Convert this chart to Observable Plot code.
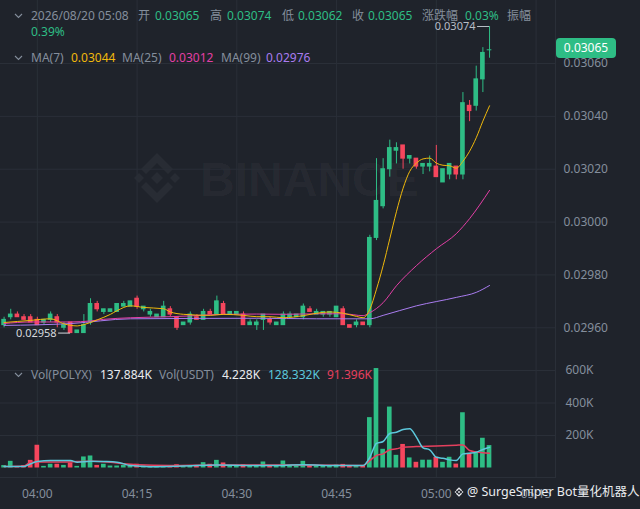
<!DOCTYPE html>
<html><head><meta charset="utf-8">
<script src="https://cdn.jsdelivr.net/npm/d3@7"></script>
<script src="https://cdn.jsdelivr.net/npm/@observablehq/plot@0.6"></script>
<style>
html,body{margin:0;padding:0;background:#1f232b;}
#wrap{position:relative;width:640px;height:509px;overflow:hidden;background:#1f232b;font-family:"Noto Sans","Noto Sans CJK SC",sans-serif;}
.t{position:absolute;font-size:12px;line-height:16px;white-space:nowrap;}
.pl{position:absolute;left:0;}
</style></head>
<body><div id="wrap"></div>
<script>
// ---------- data ----------
const startTime = "03:55";
const opens  = [0.02961,0.02964,0.02965,0.02964,0.02964,0.02963,0.02962,0.02963,0.02964,0.02960,
                0.02962,0.02958,0.02958,0.02962,0.02969,0.02966,0.02966,0.02966,0.02968,0.02968,
                0.02971,0.02967,0.02965,0.02964,0.02964,0.02967,0.02964,0.02961,0.02962,0.02964,
                0.02963,0.02966,0.02965,0.02969,0.02965,0.02965,0.02965,0.02961,0.02961,0.02963,
                0.02963,0.02961,0.02961,0.02964,0.02964,0.02964,0.02967,0.02965,0.02965,0.02965,
                0.02964,0.02967,0.02961,0.02961,0.02962,0.02961,0.02994,0.03006,0.03020,0.03027,
                0.03029,0.03024,0.03024,0.03021,0.03021,0.03021,0.03015,0.03018,0.03021,0.03018,
                0.03044,0.03044,0.03054,0.03065];
const highs  = [0.02964,0.02967,0.02966,0.02965,0.02965,0.02964,0.02963,0.02966,0.02965,0.02962,
                0.02962,0.02959,0.02965,0.02971,0.02970,0.02967,0.02967,0.02969,0.02970,0.02970,
                0.02972,0.02968,0.02967,0.02965,0.02970,0.02968,0.02964,0.02962,0.02966,0.02965,
                0.02967,0.02967,0.02972,0.02970,0.02966,0.02966,0.02966,0.02963,0.02963,0.02965,
                0.02964,0.02962,0.02966,0.02966,0.02965,0.02969,0.02968,0.02967,0.02966,0.02966,
                0.02968,0.02968,0.02961,0.02963,0.02962,0.02995,0.03024,0.03024,0.03031,0.03030,
                0.03029,0.03025,0.03024,0.03022,0.03025,0.03029,0.03020,0.03022,0.03021,0.03049,
                0.03046,0.03059,0.03066,0.03074];
const lows   = [0.02960,0.02963,0.02964,0.02963,0.02962,0.02961,0.02961,0.02962,0.02960,0.02959,
                0.02958,0.02958,0.02958,0.02961,0.02966,0.02965,0.02966,0.02966,0.02968,0.02968,
                0.02967,0.02966,0.02964,0.02964,0.02964,0.02964,0.02959,0.02961,0.02961,0.02963,
                0.02963,0.02965,0.02965,0.02965,0.02965,0.02965,0.02961,0.02961,0.02959,0.02959,
                0.02961,0.02961,0.02961,0.02964,0.02964,0.02963,0.02966,0.02965,0.02964,0.02964,
                0.02964,0.02961,0.02960,0.02960,0.02961,0.02960,0.02993,0.03005,0.03017,0.03022,
                0.03020,0.03022,0.03020,0.03018,0.03019,0.03017,0.03015,0.03016,0.03016,0.03016,
                0.03038,0.03042,0.03049,0.03062];
const closes = [0.02963,0.02965,0.02964,0.02963,0.02962,0.02961,0.02963,0.02965,0.02962,0.02961,
                0.02958,0.02959,0.02961,0.02969,0.02967,0.02967,0.02967,0.02969,0.02969,0.02970,
                0.02968,0.02968,0.02966,0.02965,0.02968,0.02965,0.02960,0.02962,0.02965,0.02963,
                0.02966,0.02965,0.02970,0.02965,0.02966,0.02966,0.02961,0.02962,0.02962,0.02965,
                0.02962,0.02962,0.02965,0.02965,0.02965,0.02968,0.02966,0.02966,0.02966,0.02966,
                0.02968,0.02961,0.02960,0.02962,0.02961,0.02994,0.03008,0.03020,0.03028,0.03028,
                0.03024,0.03025,0.03021,0.03022,0.03022,0.03017,0.03020,0.03022,0.03018,0.03045,
                0.03042,0.03054,0.03064,0.03065];
// volume in thousands of POLYX
const volumesK = [15,41,9,15,47,140,10,23,23,16, 31,10,68,74,16,23,12,12,16,10,
                  23,12,10,8,15,12,20,8,12,10, 33,23,47,31,12,10,20,12,15,37,
                  12,10,43,15,12,41,15,12,15,12, 18,22,12,15,12,310,612,115,375,78,
                  145,62,35,48,48,66,35,66,24,340, 90,90,183,138];
// moving averages (candle index -> value)
const ma7At  = [0,4,7,9,11,12,14,16,17,19,21,24,25,27,31,33,36,38,40,42,45,47,49,51,53,54,55,56,57,58,59,60,61,62,63,64,65,66,67,68,69,70,71,72,73];
const ma7    = [0.029620,0.029628,0.029634,0.029615,0.029607,0.029612,0.029630,0.029651,0.029665,0.029683,0.029677,0.029672,0.029660,0.029651,0.029647,0.029651,0.029647,0.029642,0.029642,0.029638,0.029646,0.029655,0.029660,0.029655,0.029643,0.029638,0.029670,0.029746,0.029835,0.029937,0.030039,0.030128,0.030192,0.030223,0.030239,0.030242,0.030223,0.030215,0.030213,0.030204,0.030230,0.030268,0.030319,0.030382,0.030440];
const ma25At = [0,4,10,13,15,19,25,28,33,38,42,47,51,54,55,57,59,62,65,68,70,73];
const ma25   = [0.029616,0.029622,0.029622,0.029626,0.029632,0.029638,0.029642,0.029645,0.029651,0.029652,0.029651,0.029653,0.029653,0.029646,0.029657,0.029695,0.029759,0.029835,0.029899,0.029956,0.030013,0.030120];
const ma99At = [0,10,19,38,47,55,57,62,68,71,73];
const ma99   = [0.029609,0.029616,0.029634,0.029636,0.029634,0.029634,0.029647,0.029683,0.029715,0.029734,0.029760];
const volMa5At  = [0,3,4,5,7,10,11,13,15,17,19,22,27,32,36,40,45,50,54,55,56,57,58,59,60,61,62,63,64,65,66,67,68,69,70,71,72,73];
const volMa5K   = [9,9,26,40,46,46,36,42,40,36,15,8,12,18,16,15,20,15,15,66,151,163,212,220,237,241,190,124,112,66,60,50,46,87,91,97,114,128];
const volMa10At = [0,3,4,5,9,13,16,18,20,25,35,45,54,55,56,57,58,59,60,62,65,68,69,70,72,73];
const volMa10K  = [9,12,36,37,37,42,36,26,20,16,18,18,16,46,77,87,112,118,128,132,135,140,142,108,94,91];
const priceTicks = [0.0296,0.0298,0.0300,0.0302,0.0304,0.0306];
const volTicks = [200000,400000,600000];
const timeLabels = ["04:00","04:15","04:30","04:45","05:00","05:15"];

// ---------- style ----------
const UP = "#2ebd85", DOWN = "#f6465d", GRID = "#2a2f38", AXIS = "#848e9c";
const C7 = "#f0b90b", C25 = "#e33fa6", C99 = "#a97cf0", CV5 = "#5cc8dc", CV10 = "#e5405e";
const FONT = '"Noto Sans","Noto Sans CJK SC",sans-serif';

const toMin = s => { const [h, m] = s.split(":").map(Number); return h * 60 + m; };
const m0 = toMin(startTime);
const candles = opens.map((o, i) => ({
  m: m0 + i, open: o, high: highs[i], low: lows[i], close: closes[i],
  vol: volumesK[i] * 1000, col: closes[i] >= o ? UP : DOWN
}));
const series = (at, vals, k = 1) => at.map((i, j) => ({m: m0 + i, v: vals[j] * k}));
const timeTicks = timeLabels.map(toMin);
const fmtTime = m => timeLabels[timeTicks.indexOf(m)];
const xDomain = [m0 - 0.54, m0 + 82.92];
const half = 0.35;

const wrap = document.getElementById("wrap");

// watermark
const wm = document.createElement("div");
wm.innerHTML = `<svg style="position:absolute;left:126px;top:147px" width="62" height="62" viewBox="0 0 62 62" fill="rgba(255,255,255,0.045)">
<polygon points="31,6 47,22 42,27 31,16 20,27 15,22"/><polygon points="31,56 47,40 42,35 31,46 20,35 15,40"/>
<polygon points="13,26 18,31 13,36 8,31"/><polygon points="49,26 54,31 49,36 44,31"/><polygon points="31,25 37,31 31,37 25,31"/></svg>
<div style="position:absolute;left:200px;top:156px;font:bold 48px 'Liberation Sans',sans-serif;line-height:1;color:rgba(255,255,255,0.045)">BINANCE</div>`;
wrap.appendChild(wm);

// ---------- price pane ----------
const minC = candles[d3.minIndex(candles, d => d.low)];
const maxC = candles[d3.maxIndex(candles, d => d.high)];
const last = candles[candles.length - 1];
const pf = d3.format(".5f");
const pricePlot = Plot.plot({
  width: 640, height: 357, marginLeft: 0, marginRight: 85, marginTop: 0, marginBottom: 0,
  style: {background: "transparent", fontFamily: FONT, fontSize: "12px", color: AXIS},
  x: {domain: xDomain, axis: null},
  y: {domain: [0.0294876, 0.0308384], axis: null},
  color: {type: "identity"},
  marks: [
    Plot.gridY({ticks: priceTicks, stroke: GRID, strokeOpacity: 1}),
    Plot.gridX({ticks: timeTicks, stroke: GRID, strokeOpacity: 1}),
    Plot.frame({anchor: "bottom", stroke: GRID}),
    Plot.frame({anchor: "right", stroke: GRID}),
    Plot.axisY({ticks: priceTicks, anchor: "right", label: null, tickSize: 0, tickPadding: 8, tickFormat: pf, fill: AXIS, fontSize: 12}),
    Plot.ruleX(candles, {x: "m", y1: "low", y2: "high", stroke: "col", strokeWidth: 1}),
    Plot.rect(candles, {x1: d => d.m - half, x2: d => d.m + half, y1: "open", y2: "close", fill: "col", insetTop: -0.5, insetBottom: -0.5}),
    Plot.line(series(ma99At, ma99), {x: "m", y: "v", stroke: C99, strokeWidth: 1, curve: "monotone-x"}),
    Plot.line(series(ma25At, ma25), {x: "m", y: "v", stroke: C25, strokeWidth: 1, curve: "monotone-x"}),
    Plot.line(series(ma7At, ma7), {x: "m", y: "v", stroke: C7, strokeWidth: 1, curve: "monotone-x"}),
    Plot.ruleY([maxC], {y: "high", x1: d => d.m - 1.8, x2: "m", stroke: "#b7bdc6", strokeWidth: 1}),
    Plot.text([maxC], {x: "m", y: "high", text: d => pf(d.high), textAnchor: "end", dx: -14, fill: "#b7bdc6", fontSize: 11}),
    Plot.ruleY([minC], {y: "low", x1: d => d.m - 1.8, x2: "m", stroke: "#d5d9de", strokeWidth: 1}),
    Plot.text([minC], {x: "m", y: "low", text: d => pf(d.low), textAnchor: "end", dx: -14, fill: "#d5d9de", fontSize: 11})
  ]
});
pricePlot.classList.add("pl");
pricePlot.style.top = "0px";
wrap.appendChild(pricePlot);

// ---------- volume pane ----------
const volPlot = Plot.plot({
  width: 640, height: 152, marginLeft: 0, marginRight: 85, marginTop: 0, marginBottom: 32,
  style: {background: "transparent", fontFamily: FONT, fontSize: "12px", color: AXIS},
  x: {domain: xDomain, axis: null},
  y: {domain: [0, 680000], axis: null, insetBottom: 9.5},
  color: {type: "identity"},
  marks: [
    Plot.gridY({ticks: volTicks, stroke: GRID, strokeOpacity: 1}),
    Plot.gridX({ticks: timeTicks, stroke: GRID, strokeOpacity: 1}),
    Plot.frame({anchor: "bottom", stroke: GRID}),
    Plot.frame({anchor: "right", stroke: GRID}),
    Plot.axisY({ticks: volTicks, anchor: "right", label: null, tickSize: 0, tickPadding: 10, tickFormat: d => d / 1000 + "K", fill: AXIS, fontSize: 12}),
    Plot.axisX({ticks: timeTicks, anchor: "bottom", label: null, tickSize: 0, tickPadding: 12, tickFormat: fmtTime, fill: AXIS, fontSize: 12}),
    Plot.rect(candles, {x1: d => d.m - half, x2: d => d.m + half, y1: 0, y2: "vol", fill: "col"}),
    Plot.line(series(volMa10At, volMa10K, 1000), {x: "m", y: "v", stroke: CV10, strokeWidth: 1.5, curve: "monotone-x"}),
    Plot.line(series(volMa5At, volMa5K, 1000), {x: "m", y: "v", stroke: CV5, strokeWidth: 1.5, curve: "monotone-x"})
  ]
});
volPlot.classList.add("pl");
volPlot.style.top = "357px";
wrap.appendChild(volPlot);

// ---------- texts ----------
function addText(x, yc, txt, color, size = 12, extra = "") {
  const d = document.createElement("div");
  d.className = "t";
  d.style.cssText = `left:${x}px;top:${yc - 8}px;color:${color};font-size:${size}px;${extra}`;
  d.textContent = txt;
  wrap.appendChild(d);
  return d;
}
function chevron(x, yc) {
  const d = document.createElement("div");
  d.innerHTML = `<svg style="position:absolute;left:${x}px;top:${yc - 3}px" width="9" height="6"><polyline points="1,1 4.5,4.5 8,1" fill="none" stroke="${AXIS}" stroke-width="1.1"/></svg>`;
  wrap.appendChild(d);
}
const G = "#2ebd85", W = "#eaecef";
chevron(14, 16);
[[31,"2026/08/20 05:08",AXIS],[138,"开",AXIS],[155,pf(last.open),G],[210,"高",AXIS],[227,pf(last.high),G],
 [282,"低",AXIS],[298,pf(last.low),G],[352,"收",AXIS],[368,pf(last.close),G],[422,"涨跌幅",AXIS],[465,"0.03%",G],[507,"振幅",AXIS]]
 .forEach(([x,t,c]) => addText(x, 16, t, c));
addText(31, 32, "0.39%", G);
chevron(14, 58);
[[31,"MA(7)",AXIS],[71,"0.03044",C7],[122,"MA(25)",AXIS],[169,"0.03012",C25],[221,"MA(99)",AXIS],[266,"0.02976",C99]]
 .forEach(([x,t,c]) => addText(x, 58, t, c));
chevron(14, 375);
[[31,"Vol(POLYX)",AXIS],[100,"137.884K",W],[159,"Vol(USDT)",AXIS],[222,"4.228K",W],[268,"128.332K",CV5],[327,"91.396K",CV10]]
 .forEach(([x,t,c]) => addText(x, 375, t, c));

// current price tag
const yLast = pricePlot.scale("y").apply(last.close);
const tag = document.createElement("div");
tag.style.cssText = `position:absolute;left:556px;top:${yLast - 11.5}px;width:60px;height:20px;background:${UP};border-radius:4px;color:#fff;font-size:12px;line-height:20px;text-align:center;font-family:${FONT}`;
tag.textContent = pf(last.close);
wrap.appendChild(tag);

// bottom watermark
const bw = document.createElement("div");
bw.innerHTML = `<svg style="position:absolute;left:453px;top:486px" width="12" height="12" viewBox="0 0 62 62" fill="#eaecef">
<polygon points="31,6 47,22 42,27 31,16 20,27 15,22"/><polygon points="31,56 47,40 42,35 31,46 20,35 15,40"/>
<polygon points="13,26 18,31 13,36 8,31"/><polygon points="49,26 54,31 49,36 44,31"/><polygon points="31,25 37,31 31,37 25,31"/></svg>`;
wrap.appendChild(bw);
addText(467, 492, "@ SurgeSniper Bot量化机器人", "#eaecef", 12.5);
</script></body></html>
